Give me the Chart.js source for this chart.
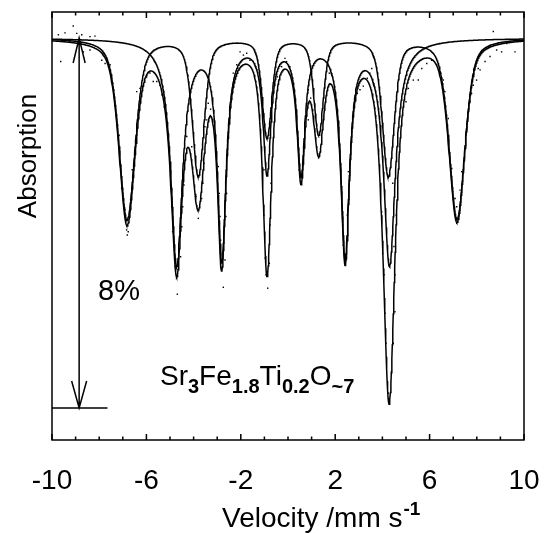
<!DOCTYPE html>
<html>
<head>
<meta charset="utf-8">
<script src="https://cdn.jsdelivr.net/npm/chart.js@4/dist/chart.umd.min.js"></script>
<style>
html, body { margin: 0; padding: 0; background: #fff; }
#wrap { width: 544px; height: 533px; }
</style>
</head>
<body>
<div id="wrap"><canvas id="chart" width="544" height="533"></canvas></div>
<script>
// Sextet A (outer, larger field): line positions (mm/s), depths (%), half widths (mm/s)
const posA   = [-6.82, -3.80, -0.89, 1.30, 4.25, 7.16];
const depthA = [3.92, 2.96, 2.13, 2.07, 2.96, 3.90];
const widthA = [0.40, 0.30, 0.24, 0.24, 0.30, 0.40];
const lorentzFracA = 0.5;

// Sextet B (inner)
const posB   = [-4.72, -2.81, -0.89, 0.55, 2.42, 4.30];
const depthB = [4.87, 4.70, 2.81, 2.84, 4.63, 4.87];
const widthB = [0.30, 0.22, 0.20, 0.20, 0.22, 0.30];
const lorentzFracB = 1.0;

const dotVel = [-9.73,-9.45,-9.10,-8.95,-9.63,-8.74,-8.39,-8.18,-9.24,-8.67,-8.39,-7.89,-7.75,
  -7.68,-7.54,-7.47,-7.33,-7.26,-7.15,-7.09,-7.05,-6.91,-6.84,-6.77,-6.81,-6.67,-6.60,-6.41,
  -6.27,-6.13,-5.99,-5.85,-5.71,-5.56,-5.42,-5.35,-5.25,-5.00,-4.97,-4.93,-4.89,-4.79,-4.69,
  -4.55,-4.50,-4.46,-4.41,-4.29,-4.08,-3.90,-3.80,-3.66,-3.62,-3.61,-3.56,-3.52,-3.44,-3.38,
  -3.28,-2.95,-2.91,-2.88,-2.85,-2.81,-2.74,-2.67,-2.63,-2.60,-2.32,-2.17,-2.03,-1.89,-1.75,
  -1.61,-1.47,-1.33,-1.19,-1.02,-1.02,-0.97,-0.93,-0.86,-0.79,-0.76,-0.72,-0.45,-0.27,-0.13,
  -0.06,0.08,0.47,0.54,0.86,0.96,1.05,0.86,1.31,1.67,1.75,2.28,2.32,2.34,2.42,2.49,2.51,2.56,
  2.94,3.05,3.19,3.36,3.47,3.55,3.97,4.01,4.07,4.11,4.15,4.25,4.39,4.46,4.53,4.49,4.53,4.58,
  4.44,5.00,5.10,5.31,5.52,5.67,5.88,6.09,6.30,6.44,6.58,6.65,6.79,6.94,7.08,7.15,7.29,7.36,
  7.54,7.71,7.78,7.85,7.99,8.06,8.14,8.35,8.56,8.70,8.84,9.05,9.27,9.41,9.62,9.76];
const dotAbs = [0.07,0.11,0.26,0.10,-0.51,0.07,0.03,0.04,-0.08,-0.30,-0.26,-0.48,-0.55,
  -0.44,-0.58,-0.94,-1.45,-1.81,-2.10,-2.78,-3.25,-3.72,-4.15,-4.19,-4.26,-3.50,-2.85,-1.16,
  -1.09,-1.04,-0.84,-0.76,-0.94,-0.94,-1.02,-1.23,-1.49,-2.75,-3.18,-3.65,-4.19,-4.94,-5.54,
  -4.73,-4.08,-3.65,-3.18,-2.13,-2.35,-3.43,-3.90,-3.47,-3.14,-3.14,-2.71,-1.92,-1.77,-1.41,
  -1.54,-2.78,-3.36,-3.86,-4.37,-4.80,-5.39,-4.80,-3.86,-3.36,-0.76,-0.58,-0.30,-0.37,-0.33,
  -0.48,-0.51,-0.69,-0.91,-2.85,-3.83,-4.76,-5.12,-5.41,-4.87,-4.04,-3.14,-0.84,-0.62,-0.44,
  -0.51,-0.62,-2.85,-3.11,-1.12,-1.30,-1.56,-1.77,-2.57,-0.58,-0.76,-3.50,-4.04,-4.48,-4.91,-4.33,-3.83,-2.89,
  -1.20,-1.12,-1.04,-0.87,-0.76,-0.66,-3.76,-4.66,-5.12,-5.95,-6.60,-7.68,-7.25,-6.60,-5.92,-4.51,-5.12,-3.83,
  -3.14,-1.38,-1.09,-0.91,-0.91,-0.66,-0.55,-0.48,-0.58,-0.73,-0.91,-1.16,-1.74,-2.82,-3.47,-3.65,-3.29,-2.89,
  -2.10,-1.38,-1.20,-1.02,-0.91,-0.66,-0.69,-0.51,-0.40,0.14,-0.26,-0.30,-0.12,-0.08,-0.30,-0.04];

// Axis values
const xMin = -10, xMax = 10;
const xTickLabels = [-10, -6, -2, 2, 6, 10];
const yMin = -8.692, yMax = 0.562;
const scaleBar = 8; // the 8% arrow

// sextet of pseudo-Voigt lines, evaluated on the velocity grid
function sextet(v, pos, depth, width, eta) {
  let s = 0;
  for (let i = 0; i < pos.length; i++) {
    const d = v - pos[i], g = width[i];
    const lor = g * g / (d * d + g * g);
    const gau = Math.exp(-Math.LN2 * d * d / (g * g));
    s += depth[i] * (eta * lor + (1 - eta) * gau);
  }
  return s;
}
const grid = [];
for (let i = 0; i <= 1000; i++) grid.push(xMin + i * 0.02);
const subA = v => sextet(v, posA, depthA, widthA, lorentzFracA);
const subB = v => sextet(v, posB, depthB, widthB, lorentzFracB);
const curveA = grid.map(v => ({x: v, y: -subA(v)}));
const curveB = grid.map(v => ({x: v, y: -subB(v)}));
const curveT = grid.map(v => ({x: v, y: -subA(v) - subB(v)}));
const dots = dotVel.map((v, i) => ({x: v, y: dotAbs[i]}));

const lineStyle = {showLine: true, pointRadius: 0, borderColor: '#000', borderWidth: 1.5, tension: 0, fill: false};

// frame, ticks, arrow and texts
const decor = {
  id: 'decor',
  afterDraw(chart) {
    const ctx = chart.ctx, a = chart.chartArea;
    const x = chart.scales.x, y = chart.scales.y;
    ctx.save();
    ctx.strokeStyle = '#000';
    ctx.fillStyle = '#000';
    ctx.lineWidth = 1.5;
    ctx.strokeRect(a.left, a.top, a.right - a.left, a.bottom - a.top);

    // inward ticks, top and bottom
    for (let v = xMin; v <= xMax; v++) {
      const px = x.getPixelForValue(v);
      const len = xTickLabels.includes(v) ? 6 : 3.5;
      ctx.beginPath();
      ctx.moveTo(px, a.bottom); ctx.lineTo(px, a.bottom - len);
      ctx.moveTo(px, a.top); ctx.lineTo(px, a.top + len);
      ctx.stroke();
    }

    // 8% scale arrow
    const ax = x.getPixelForValue(-8.85);
    const y0 = y.getPixelForValue(0), y1 = y.getPixelForValue(-scaleBar);
    ctx.beginPath();
    ctx.moveTo(ax, y0); ctx.lineTo(ax, y1);
    ctx.moveTo(ax - 6, y0 + 25); ctx.lineTo(ax, y0); ctx.lineTo(ax + 6, y0 + 25);
    ctx.moveTo(ax - 7.5, y1 - 27); ctx.lineTo(ax, y1); ctx.lineTo(ax + 7.5, y1 - 27);
    ctx.moveTo(a.left, y1); ctx.lineTo(x.getPixelForValue(-7.65), y1);
    ctx.stroke();

    ctx.textBaseline = 'alphabetic';
    ctx.textAlign = 'left';
    ctx.font = '29px Arial, "Liberation Sans"';
    ctx.fillText('8%', 98, 300);

    // formula with subscripts
    const parts = [['Sr', 0], ['3', 1], ['Fe', 0], ['1.8', 1], ['Ti', 0], ['0.2', 1], ['O', 0], ['~7', 1]];
    let tx = 160;
    parts.forEach(([t, sub]) => {
      ctx.font = sub ? 'bold 20px Arial, "Liberation Sans"' : '28px Arial, "Liberation Sans"';
      ctx.fillText(t, tx, sub ? 393 : 385);
      tx += ctx.measureText(t).width;
    });

    // x title with superscript
    ctx.font = '28px Arial, "Liberation Sans"';
    const t1 = 'Velocity /mm s';
    ctx.fillText(t1, 222, 527);
    const w1 = ctx.measureText(t1).width;
    ctx.font = 'bold 19px Arial, "Liberation Sans"';
    ctx.fillText('-1', 222 + w1 + 1, 515);

    // y title
    ctx.translate(29, 156);
    ctx.rotate(-Math.PI / 2);
    ctx.textAlign = 'center';
    ctx.textBaseline = 'middle';
    ctx.font = '26px Arial, "Liberation Sans"';
    ctx.fillText('Absorption', 0, 0);
    ctx.restore();
  }
};

new Chart(document.getElementById('chart').getContext('2d'), {
  type: 'scatter',
  data: {
    datasets: [
      Object.assign({data: curveT}, lineStyle),
      Object.assign({data: curveA}, lineStyle),
      Object.assign({data: curveB}, lineStyle),
      {data: dots, showLine: false, pointStyle: 'rect', pointRadius: 1, borderWidth: 0, backgroundColor: '#000'}
    ]
  },
  options: {
    responsive: false,
    animation: false,
    devicePixelRatio: 1,
    layout: {padding: {left: 52, right: 20, top: 12, bottom: 0}},
    scales: {
      x: {
        type: 'linear', min: xMin, max: xMax,
        afterFit(s) { s.height = 93; s.paddingLeft = 0; s.paddingRight = 0; },
        grid: {display: false, drawTicks: false},
        border: {display: false},
        ticks: {
          stepSize: 4, autoSkip: false, maxRotation: 0, padding: 24, color: '#000',
          font: {family: 'Arial, "Liberation Sans"', size: 28},
          callback: v => String(v)
        }
      },
      y: {display: false, min: yMin, max: yMax}
    },
    plugins: {legend: {display: false}, tooltip: {enabled: false}}
  },
  plugins: [decor]
});
</script>
</body>
</html>
